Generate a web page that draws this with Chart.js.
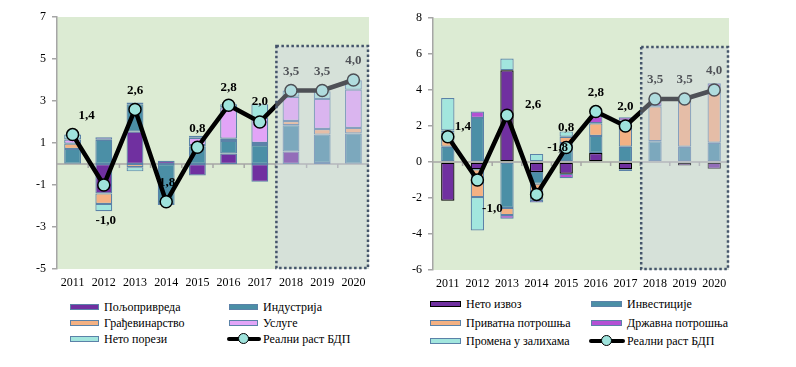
<!DOCTYPE html>
<html>
<head>
<meta charset="utf-8">
<script src="https://cdn.jsdelivr.net/npm/chart.js@4.4.0/dist/chart.umd.min.js"></script>
<style>
  body { margin: 0; background: #fff; width: 796px; height: 367px; overflow: hidden; position: relative;
         font-family: "Liberation Serif", "Times New Roman", serif; }
  canvas { position: absolute; top: 0; }
  #leftChart { left: 0; }
  #rightChart { left: 398px; }
  .sw { position: absolute; height: 4px; box-sizing: content-box; }
  .txt { position: absolute; font-size: 12px; line-height: 14px; white-space: nowrap; color: #000; }
  .ln { position: absolute; height: 4px; background: #000; border-radius: 2px; }
  .dot { position: absolute; width: 9px; height: 9px; border-radius: 50%; background: #9fe3dc; border: 1.5px solid #000; }
</style>
</head>
<body>
<canvas id="leftChart" width="398" height="295"></canvas>
<canvas id="rightChart" width="398" height="295"></canvas>
<div id="legends"></div>
<script>
// --- подаци ---
const years = ['2011', '2012', '2013', '2014', '2015', '2016', '2017', '2018', '2019', '2020'];
const gdpGrowth = [1.4, -1.0, 2.6, -1.8, 0.8, 2.8, 2.0, 3.5, 3.5, 4.0];
const forecastFrom = 7; // 2018-2020 пројекција

// лево: производна страна
const agriculture  = [0.02, -1.4, 1.55, 0.15, -0.55, 0.5, -0.85, 0.6, 0.05, 0.02];
const industry     = [0.7, 1.15, 1.3, -1.9, 0.85, 0.6, 0.9, 1.25, 1.35, 1.43];
const construction = [0.25, -0.5, -0.15, -0.05, 0.05, 0.1, 0.1, 0.2, 0.27, 0.27];
const services     = [0.2, 0.12, 0.08, 0, 0.35, 1.5, 1.2, 1.15, 1.43, 1.82];
const netTaxes     = [0.23, -0.35, -0.2, 0, 0.1, 0.15, 0.65, 0.3, 0.37, 0.45];
const leftLabels   = ['1,4', '-1,0', '2,6', '1,8', '0,8', '2,8', '2,0', '3,5', '3,5', '4,0'];
const leftTicks    = [-5, -3, -1, 1, 3, 5, 7];

// десно: расходна страна
const netExports   = [-2.15, -0.4, 5.1, -0.55, -0.65, 0.5, -0.4, 0, -0.2, -0.38];
const investment   = [0.85, 2.45, -2.55, -0.65, 1.05, 0.95, 0.85, 1.15, 0.85, 1.07];
const privateCons  = [0.8, -1.55, -0.4, -0.9, 0.35, 0.7, 1.45, 1.95, 2.8, 2.97];
const govCons      = [0.1, 0.35, -0.2, -0.15, -0.25, 0.4, 0.18, 0.3, 0, 0.33];
const inventories  = [1.8, -1.85, 0.65, 0.45, 0.3, 0, -0.1, 0, 0, 0];
const rightLabels  = ['1,4', '-1,0', '2,6', '-1,8', '0,8', '2,8', '2,0', '3,5', '3,5', '4,0'];
const rightTicks   = [-6, -4, -2, 0, 2, 4, 6, 8];

const leftNames  = ['Пољопривреда', 'Индустрија', 'Грађевинарство', 'Услуге', 'Нето порези', 'Реални раст БДП'];
const rightNames = ['Нето извоз', 'Инвестиције', 'Приватна потрошња', 'Државна потрошња', 'Промена у залихама', 'Реални раст БДП'];

// --- стилови ---
const FONT = '"Liberation Serif", "Times New Roman", serif';
const PURPLE = '#7030a0', TEAL = '#4b8fa6', PEACH = '#f4b183', PINK = '#e2a4f7',
      MAGENTA = '#b450d4', AQUA = '#a2e6de', EDGE = '#5b82a8', AXIS = '#a6a6a6';

// положај ознака у односу на тачку (dx, dy)
const leftOffsets  = [[14, -19], [2, 36], [0, -19], [1, -19], [0, -19], [0, -18], [0, -20], [0, -19], [0, -19], [0, -19]];
const rightOffsets = [[15, -10], [15, 29], [26, -11], [21, -47], [0, -20], [0, -19], [0, -19], [0, -19], [0, -19], [0, -19]];

const decor = {
  id: 'decor',
  beforeDraw(chart) {
    const { ctx, chartArea: a } = chart;
    ctx.save();
    ctx.fillStyle = '#dcebd3';
    ctx.fillRect(a.left, a.top, a.right - a.left, a.bottom - a.top);
    ctx.restore();
  },
  beforeDatasetsDraw(chart) {
    const { ctx, chartArea: a, scales: { x, y } } = chart;
    const y0 = y.getPixelForValue(0);
    const w = (a.right - a.left) / years.length;
    ctx.save();
    ctx.strokeStyle = AXIS;
    ctx.lineWidth = 1.5;
    ctx.beginPath();
    ctx.moveTo(a.left, y0);
    ctx.lineTo(a.right, y0);
    for (let i = 1; i < years.length; i++) {
      const px = a.left + i * w;
      ctx.moveTo(px, y0);
      ctx.lineTo(px, y0 + 4);
    }
    ctx.stroke();
    ctx.restore();
  },
  afterDatasetsDraw(chart, args, opts) {
    const { ctx, chartArea: a, scales: { x } } = chart;
    const pts = chart.getDatasetMeta(chart.data.datasets.length - 1).data;
    ctx.save();
    ctx.font = 'bold 13px ' + FONT;
    ctx.fillStyle = '#000';
    ctx.textAlign = 'center';
    ctx.textBaseline = 'middle';
    opts.labels.forEach((t, i) => {
      const [dx, dy] = opts.offsets[i];
      ctx.fillText(t, pts[i].x + dx, pts[i].y + dy);
    });
    // пројекција
    const w = (a.right - a.left) / years.length;
    const x1 = x.getPixelForValue(forecastFrom) - w / 2;
    const top = a.top + 29;
    ctx.fillStyle = 'rgba(205,210,225,0.38)';
    ctx.fillRect(x1, top, a.right - x1, a.bottom - top);
    ctx.strokeStyle = '#44546a';
    ctx.lineWidth = 2.5;
    ctx.setLineDash([2.5, 2.5]);
    ctx.strokeRect(x1 + 1, top, a.right - x1 - 2, a.bottom - top - 1);
    ctx.restore();
  }
};

function bar(label, data, color, border) {
  return { type: 'bar', label, data, backgroundColor: color, borderColor: border || EDGE,
           borderWidth: 1.2, borderSkipped: false, stack: 'gdp', order: 1 };
}

function gdpLine() {
  return { type: 'line', label: 'Реални раст БДП', data: gdpGrowth, stack: 'line', order: 0,
           borderColor: '#000', borderWidth: 4.5, tension: 0,
           pointRadius: 6, pointBackgroundColor: '#9fe3dc', pointBorderColor: '#000', pointBorderWidth: 1.5 };
}

function makeChart(id, datasets, cfg) {
  return new Chart(document.getElementById(id), {
    type: 'bar',
    data: { labels: years, datasets },
    options: {
      responsive: false,
      animation: false,
      layout: { padding: { top: cfg.top, right: cfg.right, left: 0, bottom: 0 } },
      datasets: { bar: { barPercentage: cfg.barPct, categoryPercentage: 1 } },
      scales: {
        x: {
          stacked: true,
          grid: { display: false, drawTicks: false },
          border: { display: false },
          ticks: { color: '#000', font: { family: FONT, size: 12 }, padding: 7, maxRotation: 0, autoSkip: false },
          afterFit: s => { s.height = cfg.xh; }
        },
        y: {
          stacked: true,
          min: cfg.ticks[0], max: cfg.ticks[cfg.ticks.length - 1],
          afterBuildTicks: s => { s.ticks = cfg.ticks.map(v => ({ value: v })); },
          grid: { drawOnChartArea: false, drawTicks: true, tickLength: 5, color: AXIS, lineWidth: 1.5 },
          border: { color: AXIS, width: 1.5 },
          ticks: { color: '#000', font: { family: FONT, size: 12 }, padding: 6 },
          afterFit: s => { s.width = cfg.yw; }
        }
      },
      plugins: {
        legend: { display: false },
        tooltip: { enabled: false },
        decor: { labels: cfg.labels, offsets: cfg.offsets }
      }
    },
    plugins: [decor]
  });
}

makeChart('leftChart', [
  bar(leftNames[0], agriculture, PURPLE),
  bar(leftNames[1], industry, TEAL),
  bar(leftNames[2], construction, PEACH),
  bar(leftNames[3], services, PINK),
  bar(leftNames[4], netTaxes, AQUA),
  gdpLine()
], { top: 17, right: 29, yw: 57, xh: 26, barPct: 0.54, ticks: leftTicks, labels: leftLabels, offsets: leftOffsets });

makeChart('rightChart', [
  bar(rightNames[0], netExports, PURPLE, '#000'),
  bar(rightNames[1], investment, TEAL),
  bar(rightNames[2], privateCons, PEACH),
  bar(rightNames[3], govCons, MAGENTA),
  bar(rightNames[4], inventories, AQUA),
  gdpLine()
], { top: 18, right: 67, yw: 35, xh: 25, barPct: 0.45, ticks: rightTicks, labels: rightLabels, offsets: rightOffsets });

// --- легенде ---
function legend(names, colors, borders, colX, rowY, swW) {
  const box = document.getElementById('legends');
  names.forEach((name, i) => {
    const cx = colX[i % 2], cy = rowY[Math.floor(i / 2)];
    if (i === names.length - 1) {
      box.insertAdjacentHTML('beforeend',
        `<div class="ln" style="left:${cx - 2}px;top:${cy - 2}px;width:${swW + 4}px"></div>` +
        `<div class="dot" style="left:${cx + swW / 2 - 6}px;top:${cy - 6}px"></div>`);
    } else {
      box.insertAdjacentHTML('beforeend',
        `<div class="sw" style="left:${cx}px;top:${cy - 3}px;width:${swW - 3}px;background:${colors[i]};border:1.5px solid ${borders[i]}"></div>`);
    }
    box.insertAdjacentHTML('beforeend', `<div class="txt" style="left:${cx + swW + 4}px;top:${cy - 7}px">${name}</div>`);
  });
}

legend(leftNames, [PURPLE, TEAL, PEACH, PINK, AQUA], [EDGE, EDGE, EDGE, EDGE, EDGE], [70, 229], [307, 323, 339], 30);
legend(rightNames, [PURPLE, TEAL, PEACH, MAGENTA, AQUA], ['#000', EDGE, EDGE, EDGE, EDGE], [430, 591], [304, 323, 341], 32);
</script>
</body>
</html>
